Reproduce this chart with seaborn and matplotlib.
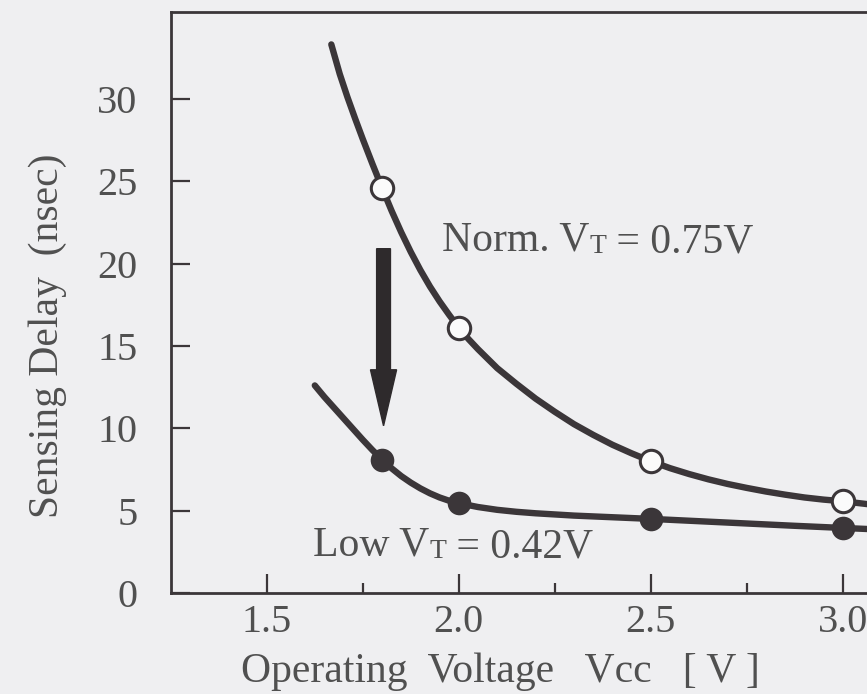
import numpy as np
import pandas as pd
import matplotlib
matplotlib.use('Agg')
import matplotlib.pyplot as plt
import seaborn as sns

# curve traces (Vcc [V], delay [ns])
norm_curve_v = [1.668, 1.69, 1.71, 1.73, 1.75, 1.775, 1.80, 1.825, 1.85, 1.875, 1.90, 1.925,
                1.95, 1.975, 2.00, 2.025, 2.05, 2.10, 2.15, 2.20, 2.25, 2.30, 2.35, 2.40,
                2.45, 2.50, 2.55, 2.60, 2.65, 2.70, 2.75, 2.80, 2.85, 2.90, 2.95, 3.00, 3.07]
norm_curve_t = [33.3, 31.5, 30.1, 28.8, 27.55, 26.05, 24.6, 23.2, 21.9, 20.7, 19.6, 18.6,
                17.7, 16.88, 16.1, 15.42, 14.8, 13.65, 12.7, 11.8, 11.0, 10.25, 9.6, 9.0,
                8.48, 8.0, 7.58, 7.22, 6.9, 6.62, 6.38, 6.16, 5.97, 5.8, 5.67, 5.57, 5.38]
low_curve_v = [1.625, 1.65, 1.675, 1.70, 1.725, 1.75, 1.775, 1.80, 1.825, 1.85, 1.875, 1.90,
               1.925, 1.95, 1.975, 2.00, 2.05, 2.10, 2.15, 2.20, 2.30, 2.40, 2.50, 2.625,
               2.75, 2.875, 3.00, 3.07]
low_curve_t = [12.6, 11.9, 11.25, 10.6, 9.95, 9.3, 8.68, 8.1, 7.57, 7.1, 6.7, 6.35,
               6.05, 5.8, 5.6, 5.45, 5.22, 5.05, 4.93, 4.84, 4.7, 4.6, 4.5, 4.36,
               4.22, 4.08, 3.95, 3.88]

# measured points
meas_v = [1.8, 2.0, 2.5, 3.0]
norm_meas = [24.6, 16.1, 8.0, 5.58]
low_meas = [8.1, 5.45, 4.5, 3.95]

x_ticks = [1.5, 2.0, 2.5, 3.0]
x_minor = [1.75, 2.25, 2.75]
y_ticks = [0, 5, 10, 15, 20, 25, 30]

bg = '#efeff1'
ink = '#3b3639'
txt = '#505050'

sns.set_theme(style='ticks')
plt.rcParams['font.family'] = ['Liberation Serif', 'DejaVu Serif']

fig = plt.figure(figsize=(8.67, 6.94), dpi=100, facecolor=bg)
ax = fig.add_axes([0.197, 0.1455, 0.803, 0.8375])
ax.set_facecolor(bg)

sns.lineplot(x=norm_curve_v, y=norm_curve_t, ax=ax, color=ink, lw=4.6, sort=False,
             estimator=None, solid_joinstyle='round')
sns.lineplot(x=low_curve_v, y=low_curve_t, ax=ax, color=ink, lw=4.6, sort=False,
             estimator=None, solid_joinstyle='round')

pts = pd.DataFrame({'v': meas_v, 'norm': norm_meas, 'low': low_meas})
sns.scatterplot(data=pts, x='v', y='norm', ax=ax, s=260, color='#fbfbfb',
                edgecolor=ink, linewidth=2.2, zorder=5)
sns.scatterplot(data=pts, x='v', y='low', ax=ax, s=240, color=ink,
                edgecolor=ink, linewidth=1.5, zorder=5)

# the shift arrow
ax.arrow(1.804, 20.9, 0, -10.75, width=0.036, head_width=0.068, head_length=3.4,
         length_includes_head=True, color='#2e2a2c', zorder=4)

ax.set_xlim(1.25, 3.063)
ax.set_ylim(0, 35.28)
ax.set_xticks(x_ticks)
ax.set_xticks(x_minor, minor=True)
ax.set_xticklabels(['1.5', '2.0', '2.5', '3.0'])
ax.set_yticks(y_ticks)
ax.tick_params(axis='both', which='major', direction='in', length=14, width=1.6,
               color=ink, labelsize=29, labelcolor=txt)
ax.tick_params(axis='x', which='major', pad=8)
ax.tick_params(axis='y', which='major', pad=24)
ax.tick_params(axis='x', which='minor', direction='in', length=7, width=1.6, color=ink)
ax.set_xlabel('')
ax.set_ylabel('')

for side in ['left', 'bottom', 'top']:
    ax.spines[side].set_color(ink)
    ax.spines[side].set_linewidth(2.0)
ax.spines['right'].set_visible(False)

ax.text(0.474, -0.153, 'Operating  Voltage   Vcc   [ V ]', transform=ax.transAxes,
        ha='center', va='baseline', fontsize=30, color=txt)
ax.text(-0.177, 0.442, 'Sensing Delay  (nsec)', transform=ax.transAxes, rotation=90,
        ha='center', va='center', fontsize=30, color=txt)


def vt_label(x, y, head, tail):
    t1 = ax.text(x, y, head + ' V', fontsize=30, color=txt, va='baseline', ha='left')
    t2 = ax.annotate('T', xy=(1, 0), xycoords=t1, fontsize=20, color=txt,
                     va='bottom', ha='left')
    ax.annotate(' = ' + tail, xy=(1, 0), xycoords=t2, fontsize=30, color=txt,
                va='bottom', ha='left', xytext=(0, -1.8), textcoords='offset points')


vt_label(1.956, 20.8, 'Norm.', '0.75V')
vt_label(1.62, 2.3, 'Low', '0.42V')

fig.savefig('out.png', dpi=100, facecolor=bg)
